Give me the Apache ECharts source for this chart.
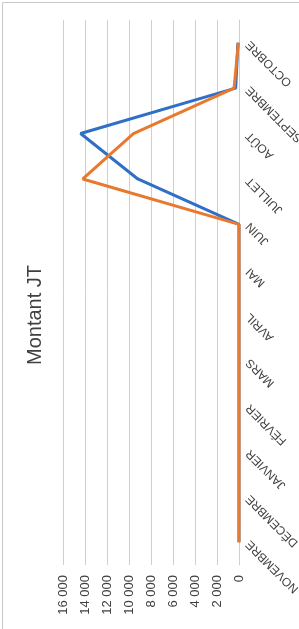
<!DOCTYPE html>
<html>
<head>
<meta charset="utf-8">
<script src="https://cdn.jsdelivr.net/npm/echarts@6/dist/echarts.min.js"></script>
<style>
  html, body { margin: 0; padding: 0; background: #fff; }
  #chart { width: 299px; height: 629px; }
</style>
</head>
<body>
<div id="chart"></div>
<script>
// mois (de bas en haut sur l'image tournée)
var months = ['NOVEMBRE', 'DÉCEMBRE', 'JANVIER', 'FÉVRIER', 'MARS', 'AVRIL',
  'MAI', 'JUIN', 'JUILLET', 'AOÛT', 'SEPTEMBRE', 'OCTOBRE'];
// série bleue
var serieBleue = [0, 0, 0, 0, 0, 0, 0, 0, 9200, 14400, 300, 100];
// série orange
var serieOrange = [0, 0, 0, 0, 0, 0, 0, 0, 14200, 9600, 450, 50];
// graduations
var valueTicks = [0, 2000, 4000, 6000, 8000, 10000, 12000, 14000, 16000];

var chart = echarts.init(document.getElementById('chart'));

var option = {
  animation: false,
  grid: {
    left: 63,
    right: 60,
    top: 20,
    bottom: 64,
    containLabel: false,
    outerBoundsMode: 'none'
  },
  graphic: [{
    type: 'rect',
    shape: { x: 2.5, y: 2.5, width: 400, height: 700 },
    style: { fill: 'none', stroke: '#c8c8c8', lineWidth: 1 },
    silent: true
  }, {
    type: 'text',
    x: 35,
    y: 315,
    rotation: Math.PI / 2,
    style: {
      text: 'Montant JT',
      fontSize: 20,
      fontFamily: 'Liberation Sans',
      fill: '#404040',
      align: 'center',
      verticalAlign: 'middle'
    }
  }],
  xAxis: {
    type: 'value',
    inverse: true,
    position: 'bottom',
    min: valueTicks[0],
    max: valueTicks[valueTicks.length - 1],
    interval: 2000,
    axisLine: { show: false },
    axisTick: { show: false },
    splitLine: { lineStyle: { color: '#cfcfcf', width: 1 } },
    axisLabel: {
      rotate: 90,
      margin: 10,
      fontSize: 13,
      fontFamily: 'Liberation Sans',
      color: '#404040',
      formatter: function (v) {
        return String(v).replace(/\B(?=(\d{3})+(?!\d))/g, ' ');
      }
    }
  },
  yAxis: {
    type: 'category',
    data: months,
    position: 'right',
    boundaryGap: true,
    axisLine: { show: true, onZero: false, lineStyle: { color: '#cfcfcf' } },
    axisTick: { show: false },
    axisLabel: {
      rotate: 135,
      align: 'right',
      verticalAlign: 'middle',
      margin: 9,
      fontSize: 12,
      fontFamily: 'Liberation Sans',
      color: '#404040',
      interval: 0
    }
  },
  series: [{
    name: 'bleu',
    type: 'line',
    data: serieBleue,
    symbol: 'none',
    lineStyle: { color: '#2f70c6', width: 3 }
  }, {
    name: 'orange',
    type: 'line',
    data: serieOrange,
    symbol: 'none',
    lineStyle: { color: '#e8792e', width: 3 }
  }]
};

chart.setOption(option);
</script>
</body>
</html>
